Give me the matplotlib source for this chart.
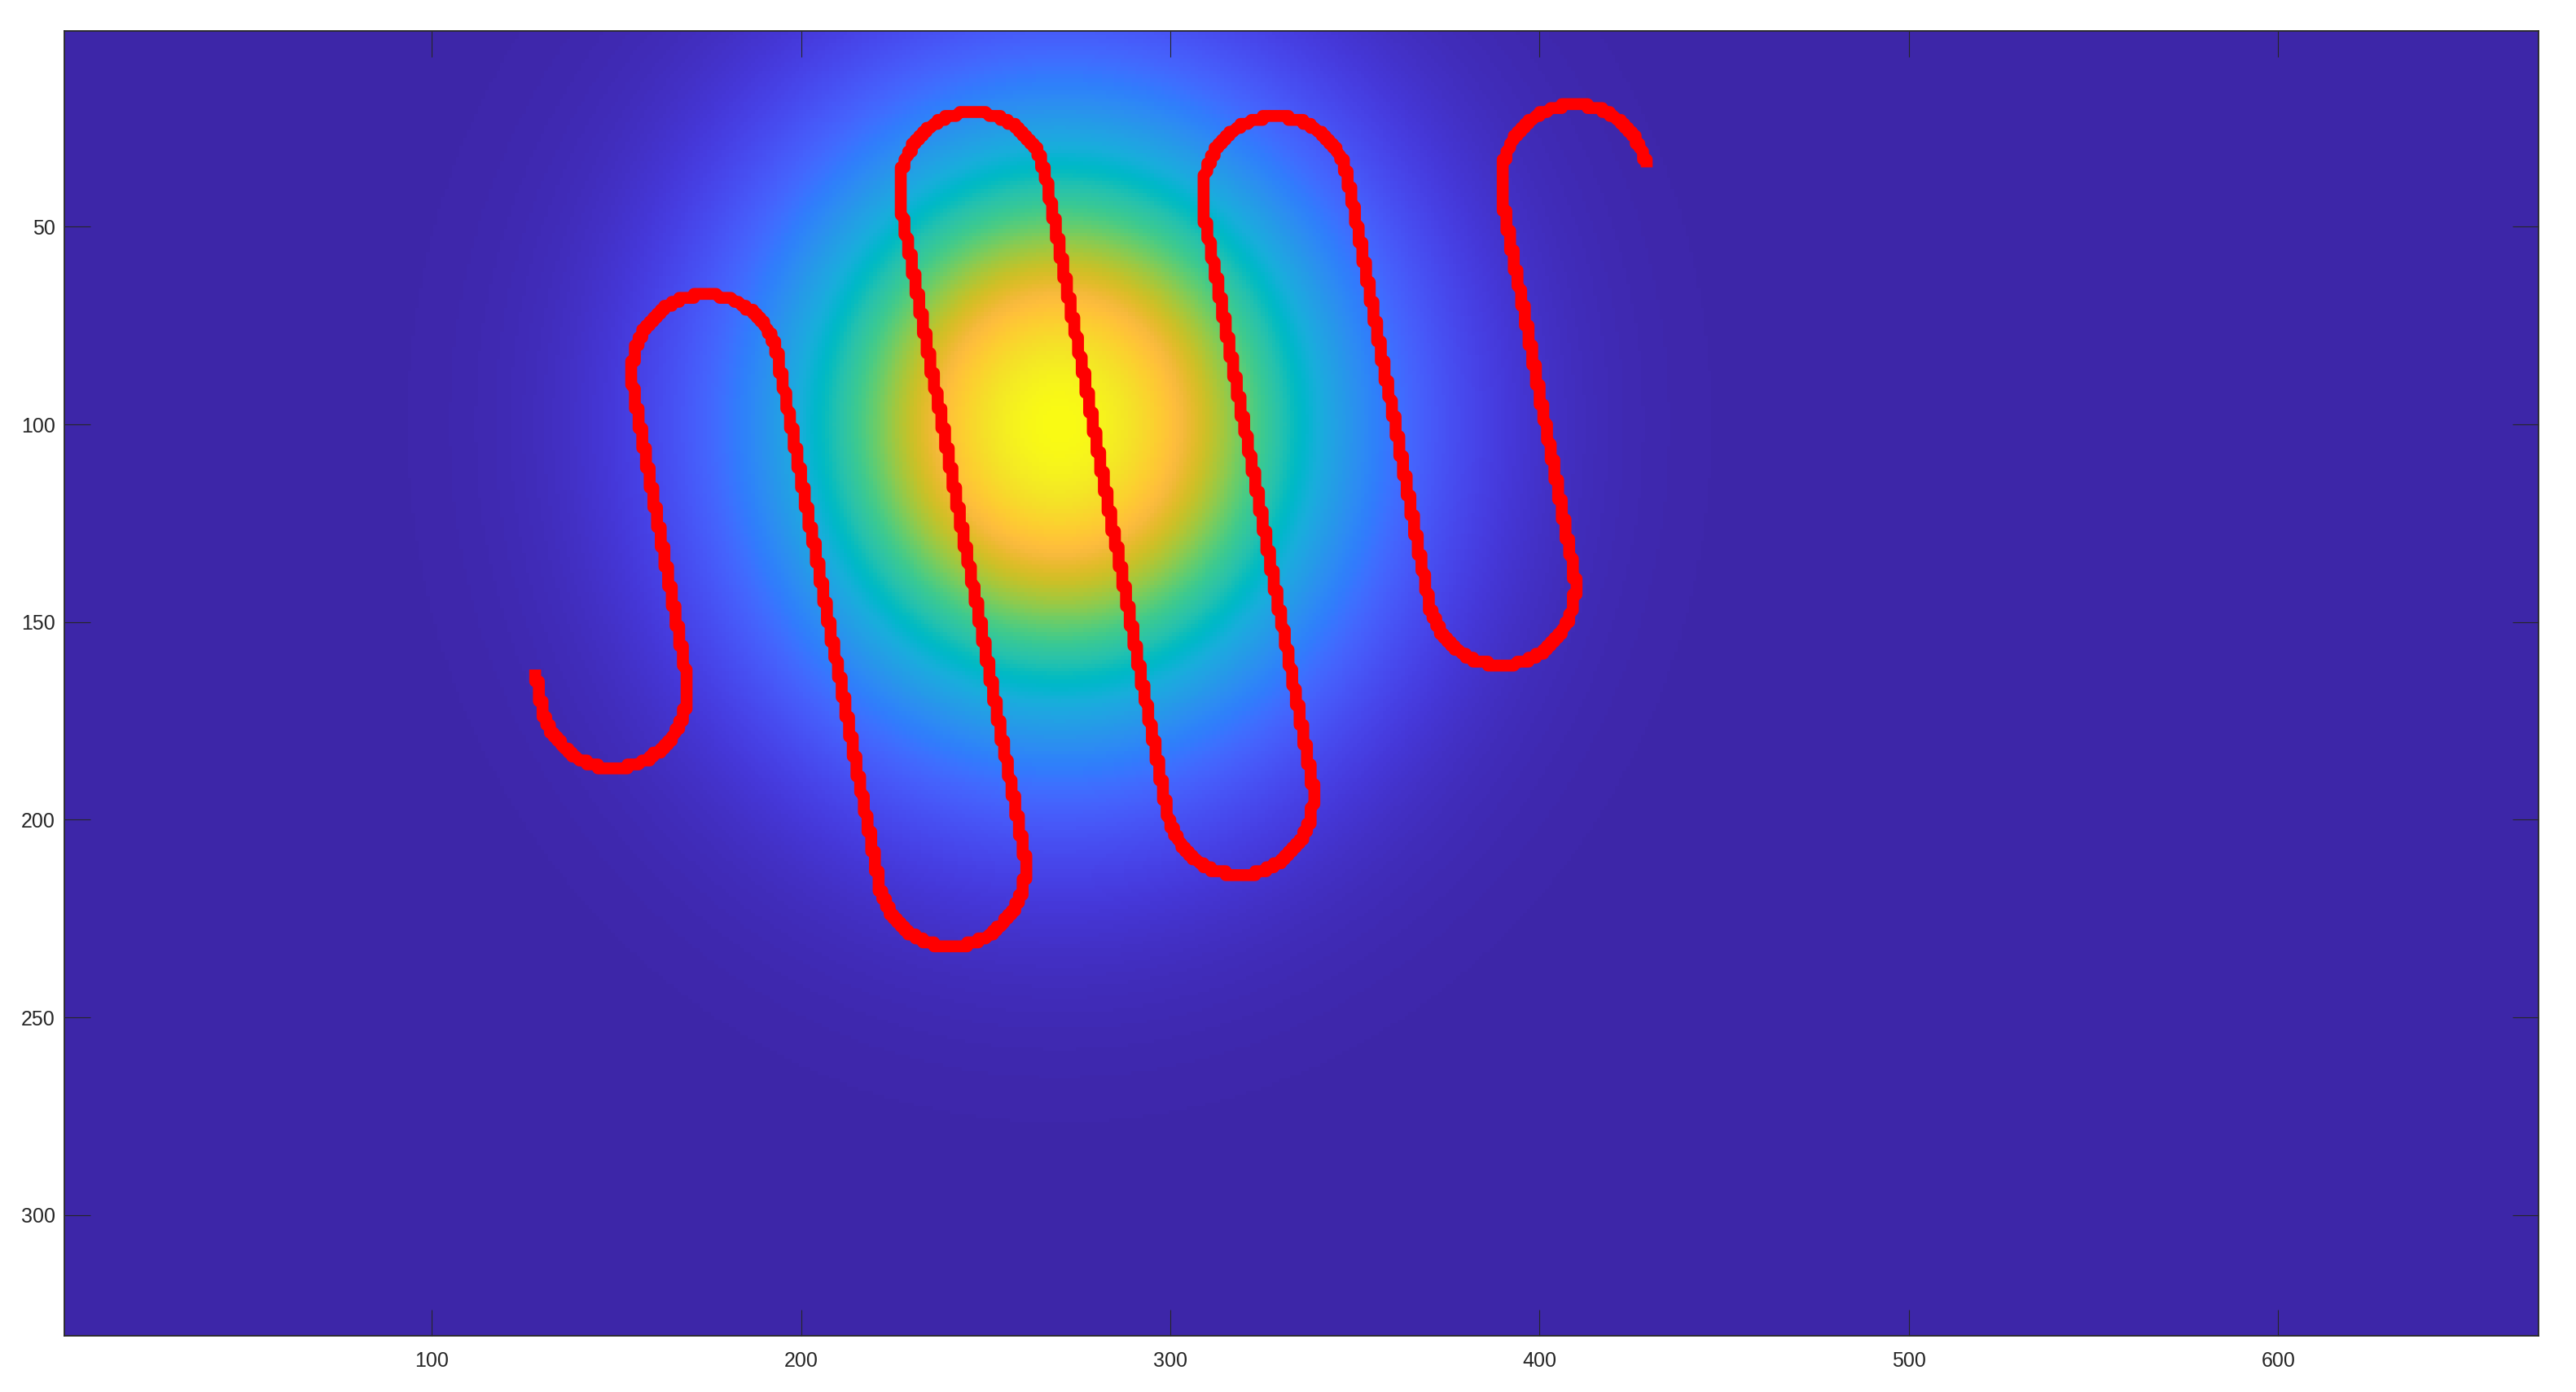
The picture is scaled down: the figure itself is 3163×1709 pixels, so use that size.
import numpy as np
import matplotlib
matplotlib.use("Agg")
import matplotlib.pyplot as plt
from matplotlib.colors import LinearSegmentedColormap

# image size (pixels of the field)
n_cols = 670
n_rows = 330

# gaussian blob behind the path
blob_x = 270.0
blob_y = 100.0
blob_sigma = 53.0

# serpentine path: start point, then the turns (centre, +1 bottom / -1 top)
start_x = 128.0
start_y = 162.0
turn_x = [149.2, 174.2, 240.7, 246.6, 318.7, 328.6, 389.6, 409.5]
turn_y = [166.9, 87.2, 212.0, 41.1, 193.9, 42.2, 140.9, 39.2]
turn_side = [1, -1, 1, -1, 1, -1, 1, -1]
turn_radius = 20.0
tilt_deg = 11.6

xticks = [100, 200, 300, 400, 500, 600]
yticks = [50, 100, 150, 200, 250, 300]

# parula (64 entries)
parula = [
    [0.2422, 0.1504, 0.6603], [0.2504, 0.1650, 0.7076], [0.2578, 0.1818, 0.7511], [0.2647, 0.1978, 0.7952],
    [0.2706, 0.2147, 0.8364], [0.2751, 0.2342, 0.8710], [0.2783, 0.2559, 0.8991], [0.2803, 0.2782, 0.9221],
    [0.2813, 0.3006, 0.9414], [0.2810, 0.3228, 0.9579], [0.2795, 0.3447, 0.9717], [0.2760, 0.3667, 0.9829],
    [0.2699, 0.3892, 0.9906], [0.2602, 0.4123, 0.9952], [0.2440, 0.4358, 0.9988], [0.2206, 0.4603, 0.9973],
    [0.1963, 0.4847, 0.9892], [0.1834, 0.5074, 0.9798], [0.1786, 0.5289, 0.9682], [0.1764, 0.5499, 0.9520],
    [0.1687, 0.5703, 0.9359], [0.1540, 0.5902, 0.9218], [0.1460, 0.6091, 0.9079], [0.1380, 0.6276, 0.8973],
    [0.1248, 0.6459, 0.8883], [0.1113, 0.6635, 0.8763], [0.0952, 0.6798, 0.8598], [0.0689, 0.6948, 0.8394],
    [0.0297, 0.7082, 0.8163], [0.0036, 0.7203, 0.7917], [0.0067, 0.7312, 0.7660], [0.0433, 0.7411, 0.7394],
    [0.0964, 0.7500, 0.7120], [0.1408, 0.7584, 0.6842], [0.1717, 0.7670, 0.6554], [0.1938, 0.7758, 0.6251],
    [0.2161, 0.7843, 0.5923], [0.2470, 0.7918, 0.5567], [0.2906, 0.7973, 0.5188], [0.3406, 0.8008, 0.4789],
    [0.3909, 0.8029, 0.4354], [0.4456, 0.8024, 0.3909], [0.5044, 0.7993, 0.3480], [0.5616, 0.7942, 0.3045],
    [0.6174, 0.7876, 0.2612], [0.6720, 0.7793, 0.2227], [0.7242, 0.7698, 0.1910], [0.7738, 0.7598, 0.1646],
    [0.8203, 0.7498, 0.1535], [0.8634, 0.7406, 0.1596], [0.9035, 0.7330, 0.1774], [0.9393, 0.7288, 0.2100],
    [0.9728, 0.7298, 0.2394], [0.9956, 0.7434, 0.2371], [0.9970, 0.7659, 0.2199], [0.9952, 0.7893, 0.2028],
    [0.9892, 0.8136, 0.1885], [0.9786, 0.8386, 0.1766], [0.9676, 0.8639, 0.1643], [0.9610, 0.8890, 0.1537],
    [0.9597, 0.9135, 0.1423], [0.9628, 0.9373, 0.1265], [0.9691, 0.9606, 0.1064], [0.9769, 0.9839, 0.0805],
]
cmap = LinearSegmentedColormap.from_list("parula", parula, N=256)

plt.rcParams['font.family'] = ['Liberation Sans', 'DejaVu Sans']

# the field
cols = np.arange(1, n_cols + 1)
rows = np.arange(1, n_rows + 1)
X, Y = np.meshgrid(cols, rows)
field = np.exp(-((X - blob_x) ** 2 + (Y - blob_y) ** 2) / (2 * blob_sigma ** 2))

# the path: turns joined by straight runs, snapped to the pixel grid
t = np.deg2rad(tilt_deg)
u = np.array([np.sin(t), np.cos(t)])    # along the runs (downwards)
nv = np.array([np.cos(t), -np.sin(t)])  # across the runs
pts = [np.array([start_x, start_y])]
for cx, cy, s in zip(turn_x, turn_y, turn_side):
    phi = np.linspace(0, np.pi, 80)
    arc = (np.array([cx, cy])[:, None]
           + turn_radius * (-np.cos(phi) * nv[:, None] + s * np.sin(phi) * u[:, None]))
    pts.extend(arc.T)
pts = np.array(pts)

dense = []
for a, b in zip(pts[:-1], pts[1:]):
    k = max(2, int(np.hypot(*(b - a)) / 0.2))
    dense.append(np.linspace(a, b, k, endpoint=False))
dense.append(pts[-1:])
dense = np.round(np.vstack(dense))
keep = np.r_[True, np.any(np.diff(dense, axis=0) != 0, axis=1)]
path = dense[keep]

fig = plt.figure(figsize=(31.63, 17.09), dpi=100)
ax = fig.add_axes([79 / 3163, 1 - 1640 / 1709, (3117 - 79) / 3163, (1640 - 38) / 1709])
ax.imshow(field, cmap=cmap, extent=(0.5, n_cols + 0.5, n_rows + 0.5, 0.5),
          aspect='auto', interpolation='nearest')
ax.plot(path[:, 0], path[:, 1], color='red', linewidth=10.5,
        solid_capstyle='butt', solid_joinstyle='round')

ax.set_xlim(0.5, n_cols + 0.5)
ax.set_ylim(n_rows + 0.5, 0.5)
ax.set_xticks(xticks)
ax.set_yticks(yticks)
ax.tick_params(axis='both', direction='in', top=True, right=True, length=23, width=0.8,
               color='#262626', labelcolor='#262626', labelsize=18)
ax.tick_params(axis='x', pad=14)
ax.tick_params(axis='y', pad=8)
for sp in ax.spines.values():
    sp.set_linewidth(1.3)
    sp.set_color('#262626')

plt.savefig("out.png", dpi=100)
